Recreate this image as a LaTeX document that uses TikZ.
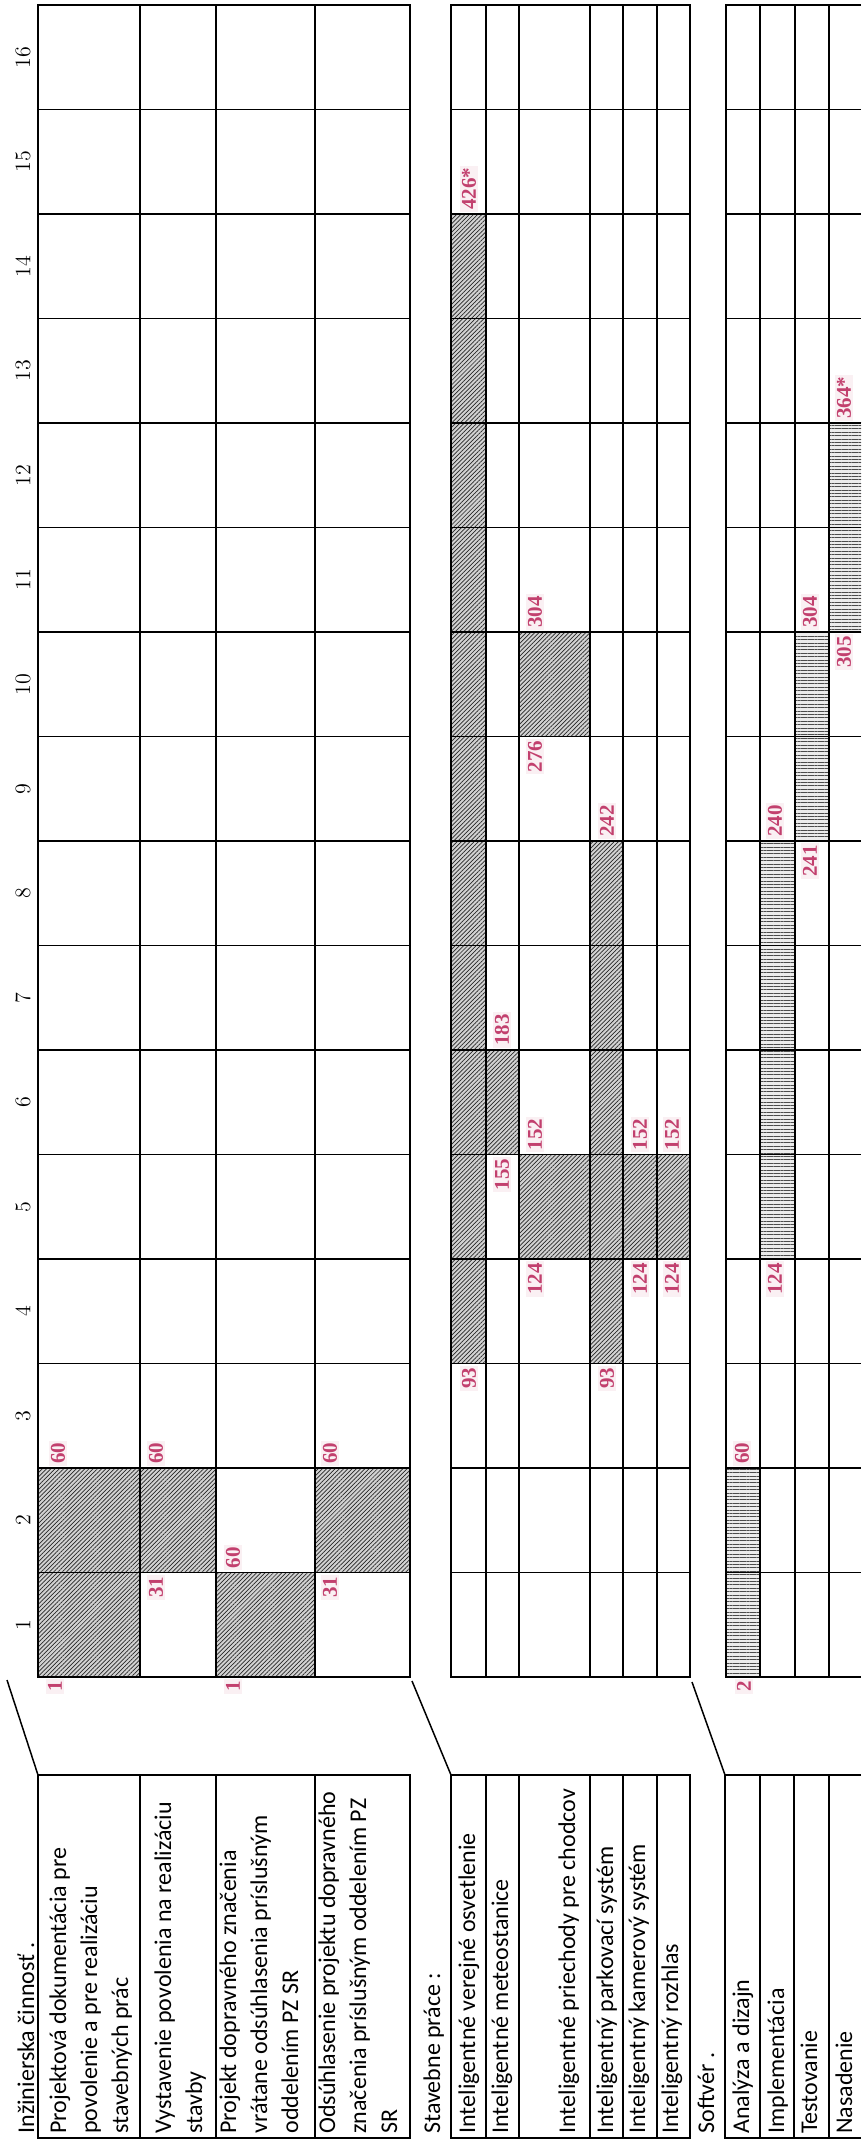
\documentclass[tikz,border=0pt]{standalone}
\usepackage{fontspec}
\newfontfamily\calfont{Carlito}
\newfontfamily\numfont{Liberation Serif}
\usetikzlibrary{patterns.meta}
\definecolor{numred}{HTML}{C2406E}
\newcommand\bY[1]{1677-104.5*(#1)}
\newcommand\hatchbar[4]{%
  \fill[gray!35] (#1,{\bY{#3}}) rectangle (#2,{\bY{#4}});
  \fill[pattern={Lines[angle=45,distance=1.5pt,line width=0.35pt]},pattern color=black!85] (#1,{\bY{#3}}) rectangle (#2,{\bY{#4}});}
\newcommand\stripebar[4]{%
  \fill[gray!15] (#1,{\bY{#3}}) rectangle (#2,{\bY{#4}});
  \fill[pattern={Lines[angle=0,distance=1.7pt,line width=0.45pt]},pattern color=black!70] (#1,{\bY{#3}}) rectangle (#2,{\bY{#4}});}
\newcommand\nabove[4]{\node[numA] (#1) at (#2,{\bY{#3}-2}) {#4};}
\newcommand\nbelow[4]{\node[numB] (#1) at (#2,{\bY{#3}+2}) {#4};}
\newcommand\txt[3]{\node[lbl] (#1) at (#2,2134) {#3};}
\tikzset{
  grid/.style={line width=0.8pt, black},
  lbl/.style={rotate=90, anchor=base west, inner sep=0pt, font=\calfont\fontsize{12}{14}\selectfont},
  numA/.style={rotate=90, anchor=west, inner sep=1pt, fill=numred!8, text=numred, font=\numfont\bfseries\fontsize{10.5}{12}\selectfont},
  numB/.style={numA, anchor=east},
  wk/.style={rotate=90, inner sep=0pt, font=\fontsize{11}{13}\selectfont},
  diag/.style={line width=0.75pt, black},
}
\begin{document}
\begin{tikzpicture}[x=0.5pt,y=-0.5pt]
\useasboundingbox (0,0) rectangle (861,2139);
% ---------- bars ----------
\hatchbar{38}{140}{0}{2}
\hatchbar{140}{216}{1}{2}
\hatchbar{216}{315}{0}{1}
\hatchbar{315}{410}{1}{2}
\hatchbar{451}{486}{3}{14}
\hatchbar{486}{519}{5}{6}
\hatchbar{519}{590}{4}{5}
\hatchbar{519}{590}{9}{10}
\hatchbar{590}{623}{3}{8}
\hatchbar{623}{657}{4}{5}
\hatchbar{657}{690}{4}{5}
\stripebar{726}{760}{0}{2}
\stripebar{760}{795}{4}{8}
\stripebar{795}{829}{8}{10}
\stripebar{829}{861}{10}{12}
% ---------- gantt grids ----------
\draw[grid] (38,5) rectangle (410,1677);
\foreach \x in {140,216,315} \draw[grid] (\x,5) -- (\x,1677);
\foreach \k in {1,...,15} \draw[grid] (38,{\bY{\k}}) -- (410,{\bY{\k}});
\draw[grid] (451,5) rectangle (690,1677);
\foreach \x in {486,519,590,623,657} \draw[grid] (\x,5) -- (\x,1677);
\foreach \k in {1,...,15} \draw[grid] (451,{\bY{\k}}) -- (690,{\bY{\k}});
\draw[grid] (861,5) -- (726,5) -- (726,1677) -- (861,1677);
\foreach \x in {760,795,829} \draw[grid] (\x,5) -- (\x,1677);
\foreach \k in {1,...,15} \draw[grid] (726,{\bY{\k}}) -- (861,{\bY{\k}});
% ---------- week numbers ----------
\foreach \k in {1,...,16} \node[wk] (w\k) at (23,{\bY{\k-0.5}}) {\k};
% ---------- label blocks ----------
\draw[grid] (38,1775) rectangle (410,2138);
\foreach \x in {140,216,315} \draw[grid] (\x,1775) -- (\x,2138);
\draw[grid] (451,1775) rectangle (690,2138);
\foreach \x in {486,519,590,623,657} \draw[grid] (\x,1775) -- (\x,2138);
\draw[grid] (861,1775) -- (725,1775) -- (725,2138) -- (861,2138);
\foreach \x in {760,794,829} \draw[grid] (\x,1775) -- (\x,2138);
% ---------- diagonals ----------
\coordinate (d1a) at (7,1680); \coordinate (d1b) at (38,1775);
\coordinate (d2a) at (412,1681); \coordinate (d2b) at (451,1775);
\coordinate (d3a) at (692,1682); \coordinate (d3b) at (725,1775);
\draw[diag] (d1a) -- (d1b);
\draw[diag] (d2a) -- (d2b);
\draw[diag] (d3a) -- (d3b);
% ---------- label texts ----------
\txt{h1}{34}{Inžinierska činnosť .}
\txt{a1}{66}{Projektová dokumentácia pre}
\txt{a2}{97}{povolenie a pre realizáciu}
\txt{a3}{128}{stavebných prác}
\txt{b1}{171}{Vystavenie povolenia na realizáciu}
\txt{b2}{202}{stavby}
\txt{c1}{236}{Projekt dopravného značenia}
\txt{c2}{267}{vrátane odsúhlasenia príslušným}
\txt{c3}{298}{oddelením PZ SR}
\txt{e1}{335}{Odsúhlasenie projektu dopravného}
\txt{e2}{366}{značenia príslušným oddelením PZ}
\txt{e3}{397}{SR}
\txt{h2}{440}{Stavebne práce :}
\txt{s1}{475}{Inteligentné verejné osvetlenie}
\txt{s2}{508}{Inteligentné meteostanice}
\txt{s3}{575}{Inteligentné priechody pre chodcov}
\txt{s4}{613}{Inteligentný parkovací systém}
\txt{s5}{645}{Inteligentný kamerový systém}
\txt{s6}{678}{Inteligentný rozhlas}
\txt{h3}{714}{Softvér .}
\txt{f1}{749}{Analýza a dizajn}
\txt{f2}{784}{Implementácia}
\txt{f3}{817}{Testovanie}
\txt{f4}{852}{Nasadenie}
% ---------- numbers ----------
\nbelow{n1}{55}{0}{1}
\nabove{n2}{58}{2}{60}
\nbelow{n3}{156}{1}{31}
\nabove{n4}{156}{2}{60}
\nbelow{n5}{233}{0}{1}
\nabove{n6}{233}{1}{60}
\nbelow{n7}{330}{1}{31}
\nabove{n8}{330}{2}{60}
\nbelow{n9}{469}{3}{93}
\nabove{n10}{469}{14}{426*}
\nbelow{n11}{502}{5}{155}
\nabove{n12}{502}{6}{183}
\nbelow{n13}{535}{4}{124}
\nabove{n14}{535}{5}{152}
\nbelow{n15}{535}{9}{276}
\nabove{n16}{535}{10}{304}
\nbelow{n17}{607}{3}{93}
\nabove{n18}{607}{8}{242}
\nbelow{n19}{640}{4}{124}
\nabove{n20}{640}{5}{152}
\nbelow{n21}{672}{4}{124}
\nabove{n22}{672}{5}{152}
\nbelow{n23}{744}{0}{2}
\nabove{n24}{742}{2}{60}
\nbelow{n25}{775}{4}{124}
\nabove{n26}{775}{8}{240}
\nbelow{n27}{810}{8}{241}
\nabove{n28}{810}{10}{304}
\nbelow{n29}{844}{10}{305}
\nabove{n30}{844}{12}{364*}
\end{tikzpicture}
\end{document}
